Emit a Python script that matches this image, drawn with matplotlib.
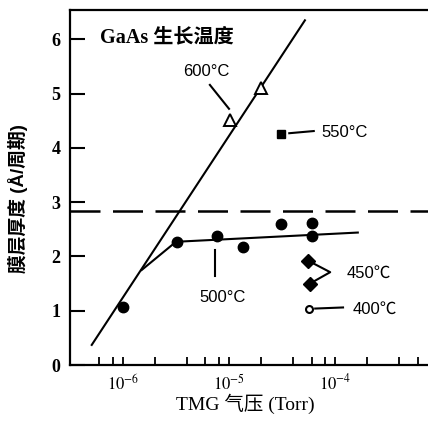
import matplotlib
matplotlib.use("Agg")
import matplotlib.pyplot as plt
from matplotlib.ticker import FixedLocator, NullFormatter, FixedFormatter
import numpy as np

# ---------------- data ----------------
# 500 C (filled circles)
p500_x = [1.0e-6, 3.2e-6, 7.7e-6, 1.36e-5, 3.1e-5, 6.0e-5, 6.0e-5]
p500_y = [1.07, 2.26, 2.38, 2.18, 2.59, 2.61, 2.38]
# 600 C (open triangles)
p600_x = [1.02e-5, 2.0e-5]
p600_y = [4.51, 5.11]
# 550 C (filled square)
p550_x = [3.1e-5]
p550_y = [4.25]
# 450 C (filled diamonds)
p450_x = [5.6e-5, 5.8e-5]
p450_y = [1.92, 1.50]
# 400 C (open circle)
p400_x = [5.7e-5]
p400_y = [1.03]
# fitted lines
fit600_x = [5.07e-7, 5.2e-5]
fit600_y = [0.37, 6.35]
fit500_x = [1.50e-6, 3.16e-6, 1.64e-4]
fit500_y = [1.75, 2.27, 2.44]
monolayer = 2.83

yticks = [0, 1, 2, 3, 4, 5, 6]
xmajor = [1e-6, 1e-5, 1e-4]
xmajor_labels = [r"$10^{-6}$", r"$10^{-5}$", r"$10^{-4}$"]
xminor = [6e-7, 8e-7, 2e-6, 4e-6, 6e-6, 8e-6, 2e-5, 4e-5, 6e-5, 8e-5,
          2e-4, 4e-4, 6e-4]

plt.rcParams['mathtext.fontset'] = 'stix'
SERIF = ['Liberation Serif', 'Noto Sans CJK SC']
SANS = ['Liberation Sans', 'Noto Sans CJK SC']

fig = plt.figure(figsize=(4.28, 4.21), dpi=100)
ax = fig.add_axes([70/428, 1-365/421, 358/428, 355/421])
ax.set_xscale('log')
ax.set_xlim(10**-6.5, 10**-3.123)
ax.set_ylim(0, 6.54)

k = 'black'
ax.plot(fit600_x, fit600_y, color=k, lw=1.5, zorder=2)
ax.plot(fit500_x, fit500_y, color=k, lw=1.5, zorder=2)
ax.axhline(monolayer, color=k, lw=1.8, dashes=(12, 5), zorder=1)

ax.plot(p500_x, p500_y, 'o', color=k, ms=7.5, zorder=3)
ax.plot(p600_x, p600_y, '^', mfc='white', mec=k, mew=1.4, ms=8, zorder=3)
ax.plot(p550_x, p550_y, 's', color=k, ms=6, zorder=3)
ax.plot(p450_x, p450_y, 'D', color=k, ms=7, zorder=3)
ax.plot(p400_x, p400_y, 'o', mfc='white', mec=k, mew=1.5, ms=5, zorder=3)

# annotations
ax.text(6.07e-7, 6.04, "GaAs 生长温度", family=SERIF, fontsize=14.5,
        fontweight='bold', ha='left', va='center')
ax.text(6.06e-6, 5.40, "600°C", family=SANS, fontsize=12, ha='center', va='center')
ax.plot([6.6e-6, 1.0e-5], [5.16, 4.72], color=k, lw=1.5)
ax.text(7.5e-5, 4.29, "550°C", family=SANS, fontsize=12, ha='left', va='center')
ax.plot([3.7e-5, 6.3e-5], [4.27, 4.31], color=k, lw=1.5)
ax.text(5.21e-6, 1.25, "500°C", family=SANS, fontsize=12, ha='left', va='center')
ax.plot([7.4e-6, 7.4e-6], [2.12, 1.64], color=k, lw=1.5)
ax.text(1.30e-4, 1.69, "450℃", family=SANS, fontsize=12, ha='left', va='center')
ax.plot([p450_x[0], 9.0e-5, p450_x[1]], [p450_y[0], 1.71, p450_y[1]], color=k, lw=1.5, zorder=2)
ax.text(1.48e-4, 1.03, "400℃", family=SANS, fontsize=12, ha='left', va='center')
ax.plot([6.5e-5, 1.19e-4], [1.04, 1.06], color=k, lw=1.5)

# axes styling
for s in ['left', 'bottom', 'top']:
    ax.spines[s].set_linewidth(1.6)
ax.spines['right'].set_visible(False)

ax.set_yticks(yticks)
ax.set_yticklabels([str(v) for v in yticks], family=SERIF, fontsize=13, fontweight='bold')
ax.tick_params(axis='y', direction='in', length=11, width=1.5, pad=7)

ax.xaxis.set_major_locator(FixedLocator(xmajor))
ax.xaxis.set_major_formatter(FixedFormatter(xmajor_labels))
ax.xaxis.set_minor_locator(FixedLocator(xminor))
ax.xaxis.set_minor_formatter(NullFormatter())
ax.tick_params(axis='x', which='both', direction='in', length=6, width=1.3, pad=6,
               labelsize=12)
ax.tick_params(axis='x', which='both', top=False)

ax.set_xlabel("TMG 气压 (Torr)", family=SERIF, fontsize=14)
ax.xaxis.set_label_coords(0.49, -0.08)
ax.set_ylabel("膜层厚度 (Å/周期)", family=SANS, fontsize=13.5, fontweight='bold')
ax.yaxis.set_label_coords(-0.117, 0.47)

fig.savefig("out.png", dpi=100)
